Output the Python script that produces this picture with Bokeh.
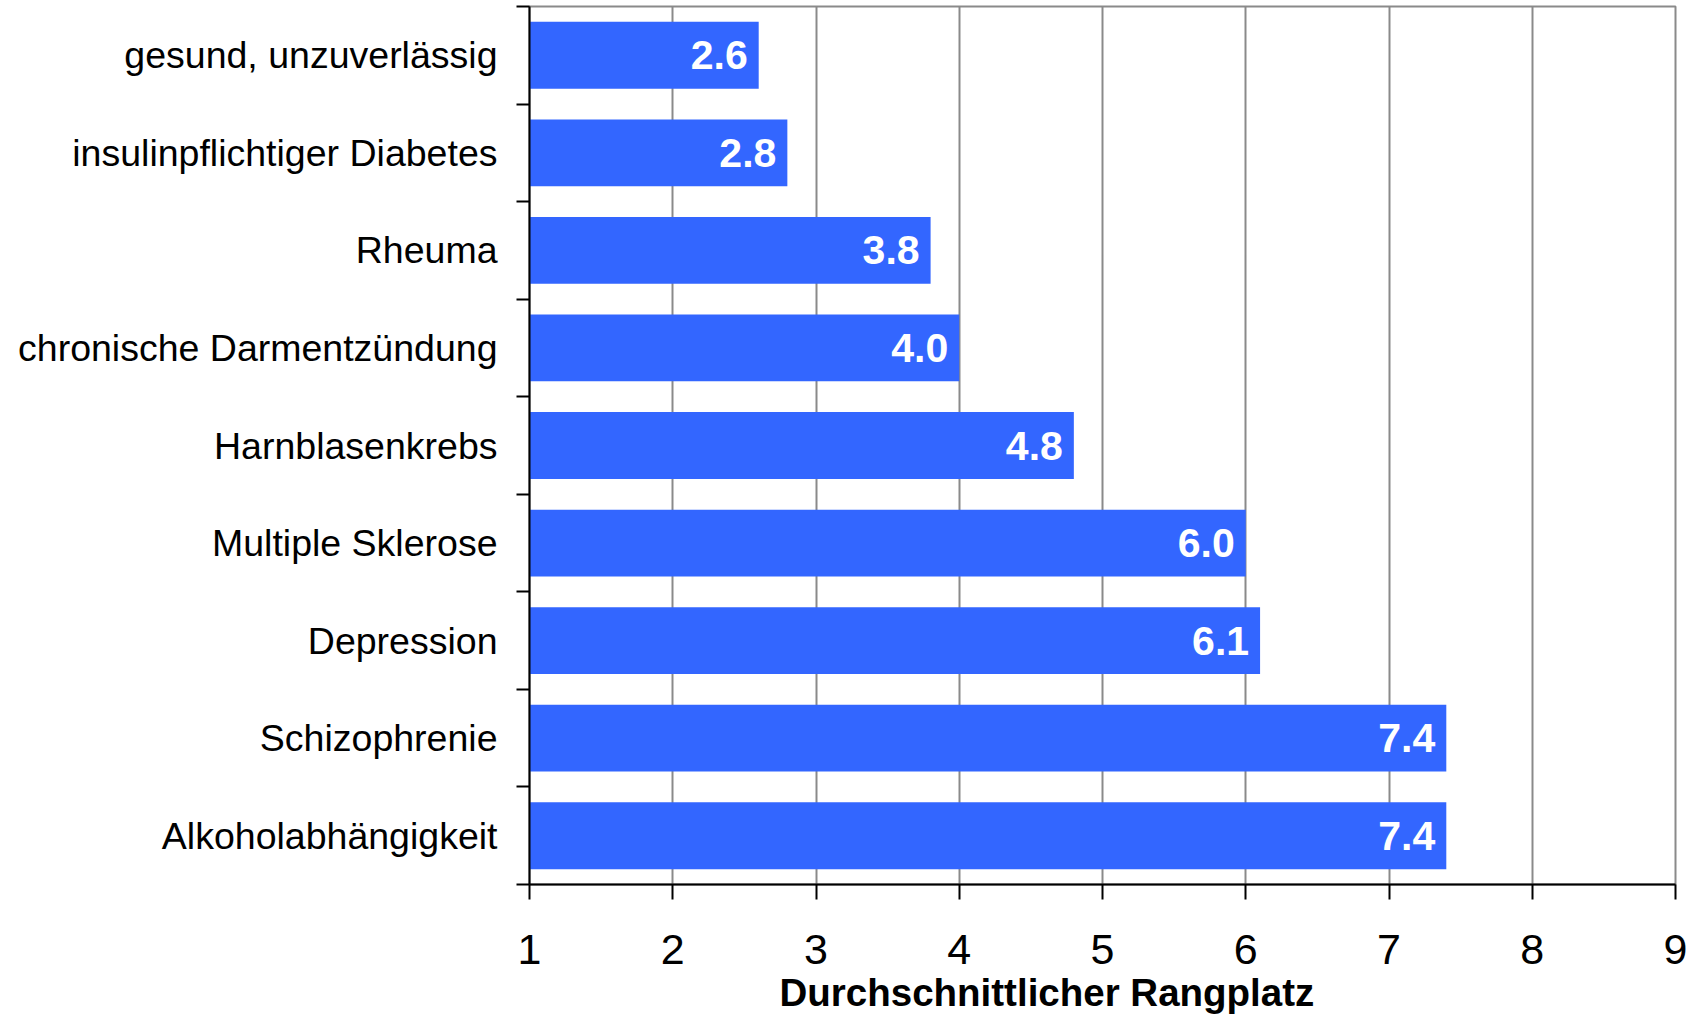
from bokeh.plotting import figure
from bokeh.models import Range1d, FixedTicker, ColumnDataSource, Title
from bokeh.core.properties import value
from bokeh.embed import file_html
from bokeh.resources import INLINE

categories = ["gesund, unzuverlässig", "insulinpflichtiger Diabetes", "Rheuma",
              "chronische Darmentzündung", "Harnblasenkrebs", "Multiple Sklerose",
              "Depression", "Schizophrenie", "Alkoholabhängigkeit"]
values = [2.6, 2.8, 3.8, 4.0, 4.8, 6.0, 6.1, 7.4, 7.4]
x_ticks = [1, 2, 3, 4, 5, 6, 7, 8, 9]
axis_title = "Durchschnittlicher Rangplatz"

n = len(categories)
# category slot positions (top category on top), centre of each slot
ypos = [n - 1 - i + 0.5 for i in range(n)]
labels = [f"{v:.1f}" for v in values]
src = ColumnDataSource(dict(y=ypos, cat=categories, val=values, lab=labels))

FONT = "Liberation Sans"

p = figure(width=1689, height=1018, output_backend="svg", toolbar_location=None,
           x_range=Range1d(x_ticks[0], x_ticks[-1]),
           y_range=Range1d(0, n),
           min_border_left=529, min_border_right=14, min_border_top=6, min_border_bottom=134)

p.hbar(y="y", left=x_ticks[0], right="val", height=0.685, source=src,
       fill_color="#3366FF", line_color=None)
p.text(x="val", y="y", text="lab", x_offset=-11, text_align="right", text_baseline="middle",
       text_color="white", text_font=value(FONT), text_font_style="bold",
       text_font_size="41px", source=src)

# left axis: labels at category centres, ticks at category boundaries
yax = p.yaxis[0]
yax.ticker = FixedTicker(ticks=ypos, minor_ticks=list(range(n + 1)))
yax.major_label_overrides = {y: c for y, c in zip(ypos, categories)}
yax.major_tick_line_color = None
yax.major_tick_out = 0
yax.major_tick_in = 0
yax.minor_tick_out = 13
yax.minor_tick_in = 0
yax.minor_tick_line_color = "black"
yax.minor_tick_line_width = 2
yax.axis_line_color = "black"
yax.axis_line_width = 2
yax.major_label_standoff = 19
yax.major_label_text_font = FONT
yax.major_label_text_font_size = "37.5px"
yax.major_label_text_color = "black"

xax = p.xaxis[0]
xax.ticker = FixedTicker(ticks=x_ticks)
xax.major_tick_out = 15
xax.major_tick_in = 0
xax.major_tick_line_width = 2
xax.major_tick_line_color = "black"
xax.minor_tick_line_color = None
xax.axis_line_color = "black"
xax.axis_line_width = 2
xax.major_label_standoff = 35
xax.major_label_text_font = FONT
xax.major_label_text_font_size = "43px"
xax.major_label_text_color = "black"

p.xgrid.ticker = FixedTicker(ticks=x_ticks)
p.xgrid.grid_line_color = "#8a8a8a"
p.xgrid.grid_line_width = 2
p.ygrid.visible = False

p.outline_line_color = "#8a8a8a"
p.outline_line_width = 2
p.background_fill_color = "white"
p.border_fill_color = "white"

p.add_layout(Title(text=axis_title, align="left", offset=250, text_font_size="38.5px",
                   text_font_style="bold", text_font=FONT, text_color="black", standoff=5),
             "below")

open("out.html", "w").write(file_html(p, INLINE))
